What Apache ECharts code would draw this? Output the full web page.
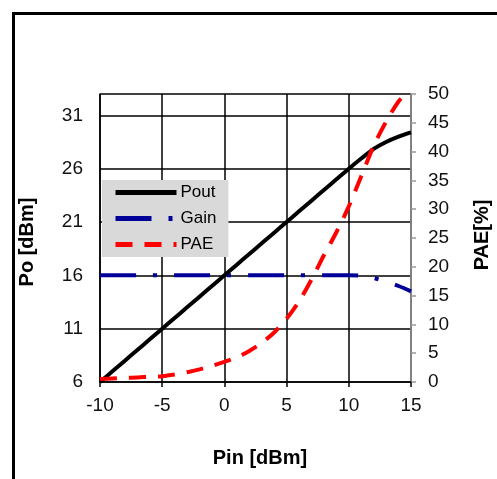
<!DOCTYPE html>
<html>
<head>
<meta charset="utf-8">
<script src="https://cdn.jsdelivr.net/npm/echarts@6/dist/echarts.min.js"></script>
<style>
html,body{margin:0;padding:0;background:#fff;}
#c{width:497px;height:479px;}
</style>
</head>
<body>
<div id="c"></div>
<script>
// Data
const pin = [-10,-9,-8,-7,-6,-5,-4,-3,-2,-1,0,1,2,3,4,5,6,7,8,9,10,11,12,13,14,15];
const pout = [6,7,8,9,10,11,12,13,14,15,16,17,18,19,20,21,22,23,24,25,26,26.95,27.85,28.5,29,29.4];
const gain = [16,16,16,16,16,16,16,16,16,16,16,16,16,16,16,16,16,16,16,16,16,15.95,15.75,15.4,15,14.5];
const pae = [0.5,0.6,0.7,0.8,0.9,1.0,1.3,1.7,2.2,2.8,3.5,4.3,5.4,6.8,8.6,11,14,17.8,22,26,30.5,35.7,41,45.2,48.7,51];
const xTicks = [-10,-5,0,5,10,15];
const leftTicks = [6,11,16,21,26,31];
const rightTicks = [0,5,10,15,20,25,30,35,40,45,50];

const chart = echarts.init(document.getElementById('c'), null, {renderer:'canvas'});
const font = 'Arial, "Liberation Sans", sans-serif';
const pair = (xs, ys) => xs.map((x,i)=>[x, ys[i]]);

chart.setOption({
  animation:false,
  backgroundColor:'#fff',
  grid:{left:100, right:86, top:94, bottom:97, containLabel:false},
  graphic:[{
    type:'rect', z:100,
    shape:{x:13.5, y:13.5, width:600, height:600},
    style:{fill:'none', stroke:'#000', lineWidth:3}
  },{
    type:'text', rotation:Math.PI/2,
    x:27, y:242,
    style:{text:'Po [dBm]', font:'bold 20px '+font, fill:'#000', textAlign:'center', textVerticalAlign:'middle'}
  },{
    type:'text', rotation:Math.PI/2,
    x:482, y:235,
    style:{text:'PAE[%]', font:'bold 20px '+font, fill:'#000', textAlign:'center', textVerticalAlign:'middle'}
  },{
    type:'text',
    x:260, y:458,
    style:{text:'Pin [dBm]', font:'bold 20px '+font, fill:'#000', textAlign:'center', textVerticalAlign:'middle'}
  }],
  legend:{
    left:102, top:180, orient:'vertical',
    backgroundColor:'#d9d9d9', borderWidth:0,
    padding:[4,12,4,11],
    itemWidth:61, itemHeight:14, itemGap:9,
    itemStyle:{opacity:0},
    lineStyle:{width:5},
    textStyle:{fontSize:17, fontFamily:font, color:'#000', padding:[0,0,0,-1]},
    data:['Pout','Gain','PAE']
  },
  xAxis:{
    type:'value', min:-10, max:15, interval:5,
    axisLine:{show:true, lineStyle:{color:'#000', width:1.5}},
    axisTick:{show:true, inside:false, length:5, lineStyle:{color:'#000', width:1.5}},
    axisLabel:{fontSize:19, fontFamily:font, color:'#111', margin:14,
      customValues:xTicks},
    splitLine:{show:true, lineStyle:{color:'#000', width:1.5}}
  },
  yAxis:[{
    type:'value', min:6, max:33, position:'left',
    axisLine:{show:true, onZero:false, lineStyle:{color:'#000', width:1.5}},
    axisTick:{show:false, customValues:leftTicks.concat([33])},
    axisLabel:{fontSize:19, fontFamily:font, color:'#111', margin:17, customValues:leftTicks},
    splitLine:{show:true, lineStyle:{color:'#000', width:1.5}}
  },{
    type:'value', min:0, max:50, interval:5, position:'right',
    axisLine:{show:true, onZero:false, lineStyle:{color:'#999', width:1.5}},
    axisTick:{show:true, inside:false, length:5, lineStyle:{color:'#999', width:1.5}},
    axisLabel:{fontSize:19, fontFamily:font, color:'#111', margin:17, customValues:rightTicks},
    splitLine:{show:false}
  }],
  series:[{
    name:'Pout', type:'line', yAxisIndex:0, symbol:'none', smooth:0.3,
    data:pair(pin,pout),
    lineStyle:{color:'#000', width:4},
    itemStyle:{color:'#000'}, z:3
  },{
    name:'Gain', type:'line', yAxisIndex:0, symbol:'none', smooth:0.3,
    data:pair(pin,gain),
    lineStyle:{color:'#000099', width:4, type:[36,17,4,17], cap:'butt'},
    itemStyle:{color:'#000099'}, z:2
  },{
    name:'PAE', type:'line', yAxisIndex:1, symbol:'none', smooth:0.3,
    data:pair(pin,pae),
    lineStyle:{color:'#ff0000', width:4, type:[17,12], cap:'butt'},
    itemStyle:{color:'#ff0000'}, z:4
  }]
});
</script>
</body>
</html>
